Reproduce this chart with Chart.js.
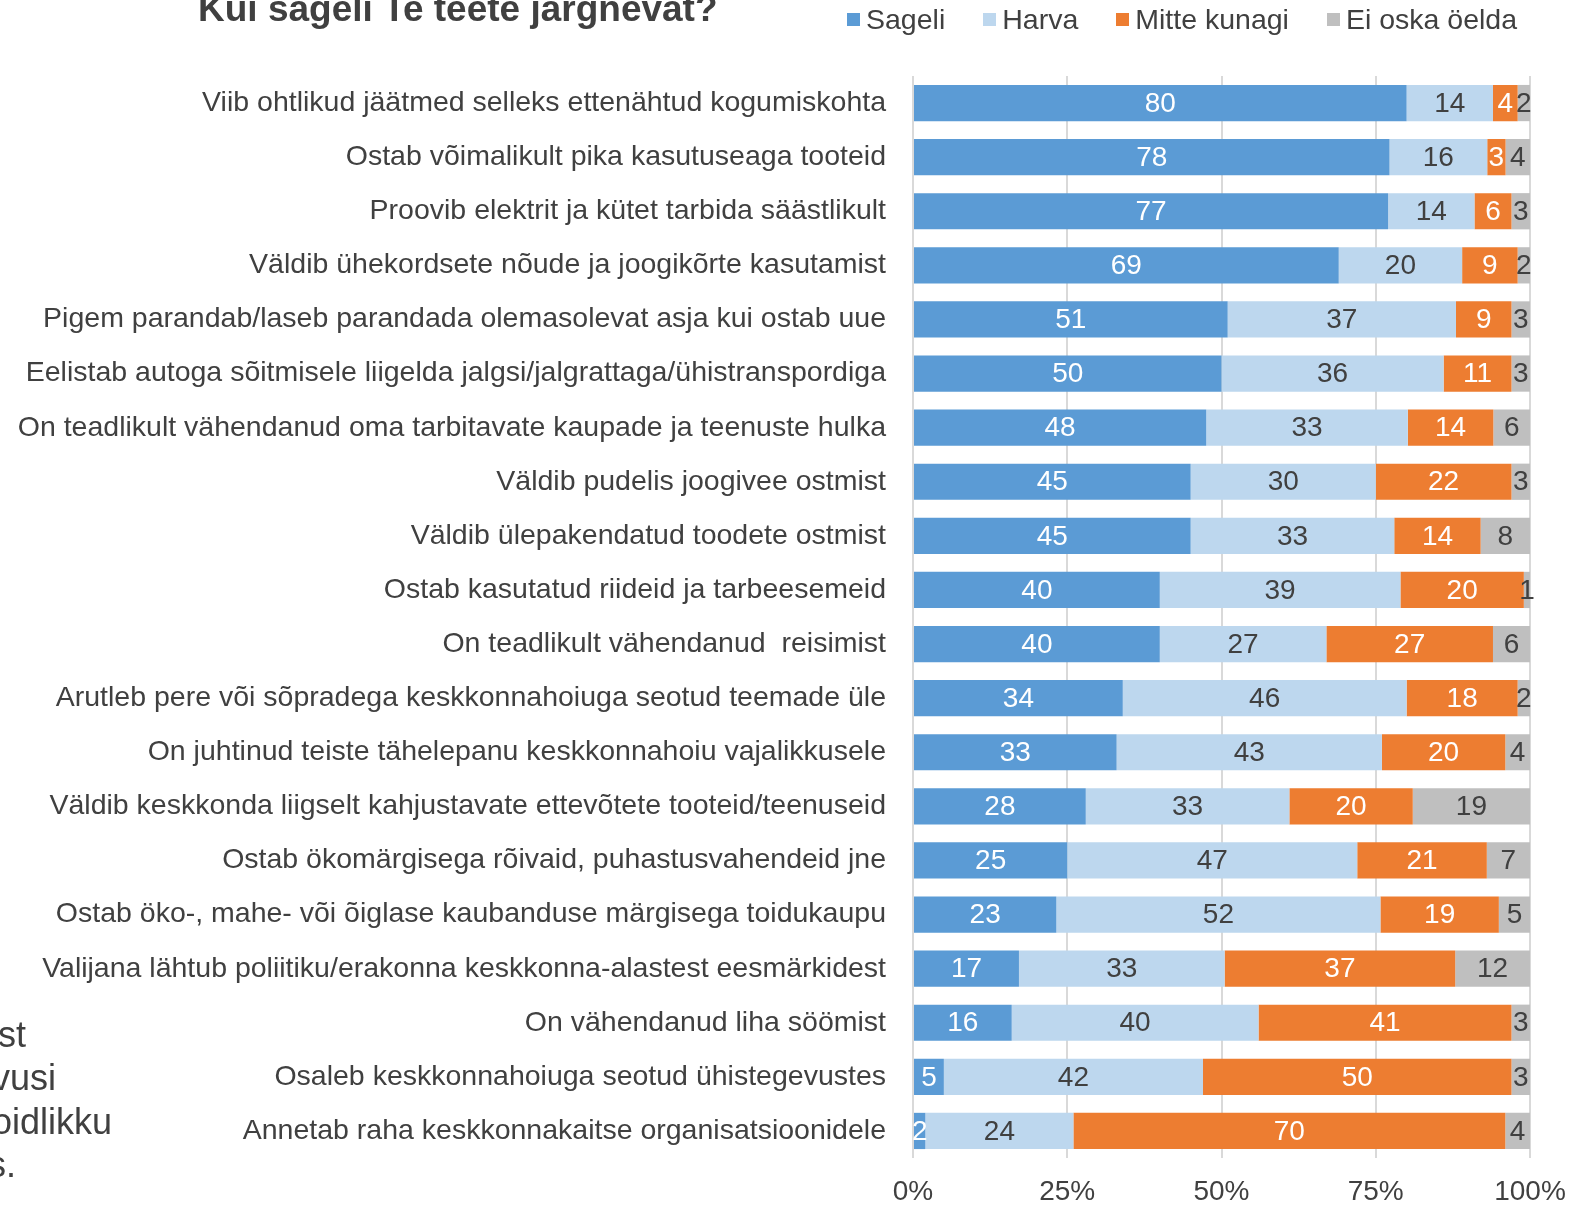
<!DOCTYPE html>
<html>
<head>
<meta charset="utf-8">
<script src="https://cdn.jsdelivr.net/npm/chart.js@4/dist/chart.umd.min.js"></script>
<style>
    body { margin: 0; background: #fff; font-family: 'Liberation Sans', Arial, sans-serif; color: #404040; }
    #wrap { position: relative; width: 1570px; height: 1205px; overflow: hidden; }
    #chart-canvas { position: absolute; left: 0; top: 0; }
    .title { position: absolute; left: 198px; top: -12px; font-size: 37px; font-weight: bold; white-space: nowrap; }
    .legend { position: absolute; left: 847px; top: 3px; display: flex; font-size: 28.5px; white-space: nowrap; }
    .legend-item { display: flex; align-items: center; margin-right: 38px; }
    .legend-box { width: 13px; height: 13px; margin-right: 6px; }
    .side-text { position: absolute; left: 0; font-size: 36px; line-height: 36px; white-space: nowrap; }
</style>
</head>
<body>
<div id="wrap">
    <canvas id="chart-canvas" width="1570" height="1205"></canvas>
    <div class="title">Kui sageli Te teete järgnevat?</div>
    <div class="legend" id="legend"></div>
    <div class="side-text" style="top:1017px;left:-2px;">st</div>
    <div class="side-text" style="top:1060px;left:-8px;">vusi</div>
    <div class="side-text" style="top:1104px;left:-8px;">oidlikku</div>
    <div class="side-text" style="top:1147px;left:-12px;">s.</div>
</div>
<script>
const categories = [
    'Viib ohtlikud jäätmed selleks ettenähtud kogumiskohta',
    'Ostab võimalikult pika kasutuseaga tooteid',
    'Proovib elektrit ja kütet tarbida säästlikult',
    'Väldib ühekordsete nõude ja joogikõrte kasutamist',
    'Pigem parandab/laseb parandada olemasolevat asja kui ostab uue',
    'Eelistab autoga sõitmisele liigelda jalgsi/jalgrattaga/ühistranspordiga',
    'On teadlikult vähendanud oma tarbitavate kaupade ja teenuste hulka',
    'Väldib pudelis joogivee ostmist',
    'Väldib ülepakendatud toodete ostmist',
    'Ostab kasutatud riideid ja tarbeesemeid',
    'On teadlikult vähendanud  reisimist',
    'Arutleb pere või sõpradega keskkonnahoiuga seotud teemade üle',
    'On juhtinud teiste tähelepanu keskkonnahoiu vajalikkusele',
    'Väldib keskkonda liigselt kahjustavate ettevõtete tooteid/teenuseid',
    'Ostab ökomärgisega rõivaid, puhastusvahendeid jne',
    'Ostab öko-, mahe- või õiglase kaubanduse märgisega toidukaupu',
    'Valijana lähtub poliitiku/erakonna keskkonna-alastest eesmärkidest',
    'On vähendanud liha söömist',
    'Osaleb keskkonnahoiuga seotud ühistegevustes',
    'Annetab raha keskkonnakaitse organisatsioonidele'
];

const sageli      = [80, 78, 77, 69, 51, 50, 48, 45, 45, 40, 40, 34, 33, 28, 25, 23, 17, 16, 5, 2];
const harva       = [14, 16, 14, 20, 37, 36, 33, 30, 33, 39, 27, 46, 43, 33, 47, 52, 33, 40, 42, 24];
const mitteKunagi = [4, 3, 6, 9, 9, 11, 14, 22, 14, 20, 27, 18, 20, 20, 21, 19, 37, 41, 50, 70];
const eiOska      = [2, 4, 3, 2, 3, 3, 6, 3, 8, 1, 6, 2, 4, 19, 7, 5, 12, 3, 3, 4];

const seriesNames = ['Sageli', 'Harva', 'Mitte kunagi', 'Ei oska öelda'];
const tickLabels = ['0%', '25%', '50%', '75%', '100%'];

const seriesColors = ['#5B9BD5', '#BDD7EE', '#ED7D31', '#BFBFBF'];
const labelColors = ['#FFFFFF', '#404040', '#FFFFFF', '#404040'];
const textColor = '#404040';
const fontFamily = "'Liberation Sans', Arial, sans-serif";

const rawSeries = [sageli, harva, mitteKunagi, eiOska];
const totals = categories.map((c, i) => rawSeries.reduce((s, arr) => s + arr[i], 0));

const datasets = rawSeries.map((arr, k) => ({
    label: seriesNames[k],
    data: arr.map((v, i) => v / totals[i] * 100),
    raw: arr,
    backgroundColor: seriesColors[k],
    categoryPercentage: 1.0,
    barPercentage: 0.67
}));

// legend in html
const legendEl = document.getElementById('legend');
seriesNames.forEach((name, k) => {
    const item = document.createElement('div');
    item.className = 'legend-item';
    item.innerHTML = `<span class="legend-box" style="background:${seriesColors[k]}"></span><span>${name}</span>`;
    legendEl.appendChild(item);
});

const barLabels = {
    id: 'barLabels',
    afterDatasetsDraw(chart) {
        const ctx = chart.ctx;
        ctx.save();
        ctx.font = `28px ${fontFamily}`;
        ctx.textAlign = 'center';
        ctx.textBaseline = 'middle';
        chart.data.datasets.forEach((ds, k) => {
            const meta = chart.getDatasetMeta(k);
            meta.data.forEach((bar, i) => {
                const p = bar.getCenterPoint();
                ctx.fillStyle = labelColors[k];
                ctx.fillText(String(ds.raw[i]), p.x, p.y + 1);
            });
        });
        ctx.restore();
    }
};

new Chart(document.getElementById('chart-canvas').getContext('2d'), {
    type: 'bar',
    data: { labels: categories, datasets: datasets },
    options: {
        indexAxis: 'y',
        responsive: false,
        animation: false,
        layout: { padding: { top: 76, right: 40, left: 0, bottom: 0 } },
        plugins: {
            legend: { display: false },
            tooltip: { enabled: false }
        },
        scales: {
            x: {
                stacked: true,
                min: 0,
                max: 100,
                afterBuildTicks: (scale) => {
                    scale.ticks = tickLabels.map((t, i) => ({ value: i * 25 }));
                },
                afterFit: (scale) => {
                    scale.height = 47;
                    scale.paddingLeft = 0;
                    scale.paddingRight = 0;
                },
                ticks: {
                    callback: (v, i) => tickLabels[i],
                    color: textColor,
                    font: { family: fontFamily, size: 28 },
                    padding: 17,
                    maxRotation: 0
                },
                grid: { color: '#D9D9D9', lineWidth: 2, drawTicks: false },
                border: { display: false }
            },
            y: {
                stacked: true,
                afterFit: (scale) => {
                    scale.width = 913;
                    scale.paddingTop = 0;
                    scale.paddingBottom = 0;
                },
                ticks: {
                    color: textColor,
                    font: { family: fontFamily, size: 28.5 },
                    padding: 27,
                    autoSkip: false
                },
                grid: { display: false, drawTicks: false },
                border: { display: false }
            }
        }
    },
    plugins: [barLabels]
});
</script>
</body>
</html>
